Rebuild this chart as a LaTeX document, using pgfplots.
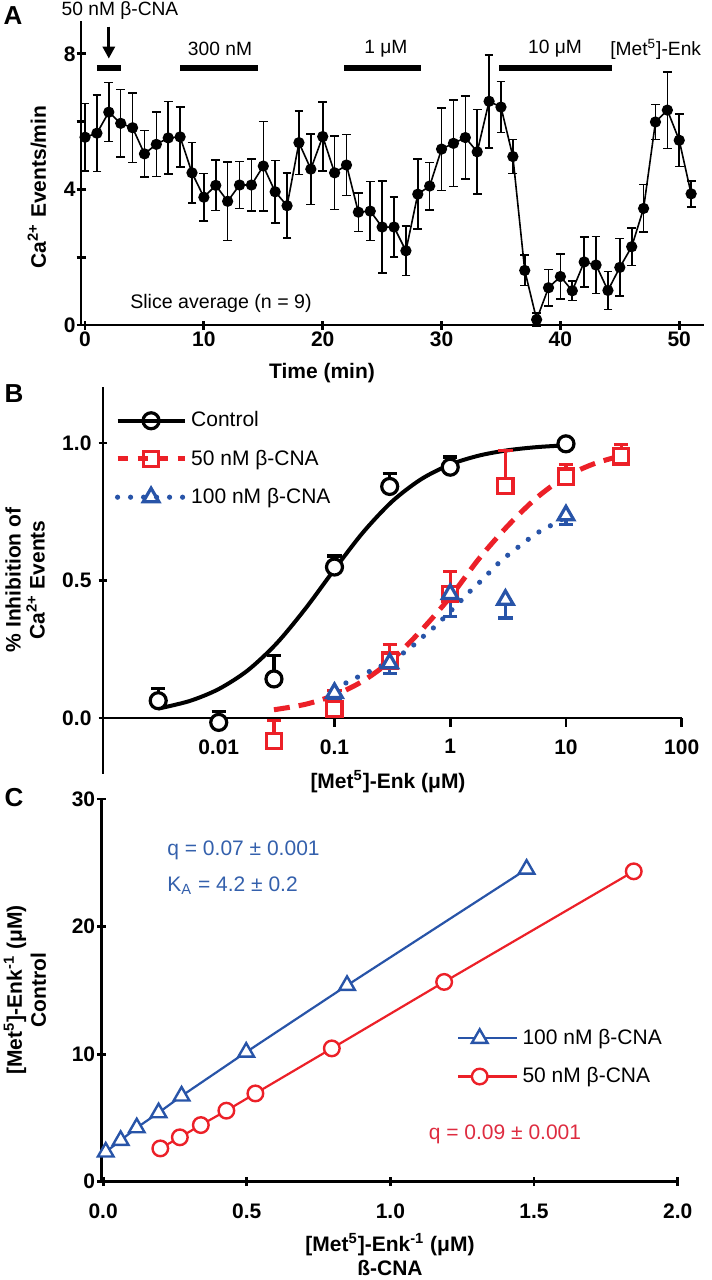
\documentclass[border=0pt]{standalone}
\usepackage{fontspec}
\setmainfont{Liberation Sans}
\usepackage{pgfplots}
\usepackage{pgfplotstable}
\pgfplotsset{compat=1.18}
\usetikzlibrary{arrows.meta}
\definecolor{cblue}{RGB}{40,84,168}
\definecolor{cred}{RGB}{236,32,40}
\definecolor{tblue}{RGB}{52,96,172}
\definecolor{tred}{RGB}{222,44,64}
\newcommand{\fs}[1]{\fontsize{#1}{#1}\selectfont}
\tikzset{spine/.style={line width=1.4pt, line cap=rect}}

\pgfplotstableread{
t v e
0 5.54 1.00
1 5.66 1.13
2 6.28 0.87
3 5.95 1.00
4 5.82 1.02
5 5.05 0.69
6 5.33 0.95
7 5.52 1.07
8 5.55 0.89
9 4.49 0.89
10 3.77 0.70
11 4.12 0.74
12 3.65 1.16
13 4.13 0.69
14 4.13 0.76
15 4.69 1.32
16 3.93 0.92
17 3.52 0.96
18 5.38 0.94
19 4.60 1.04
20 5.56 1.02
21 4.49 1.08
22 4.72 0.90
23 3.33 0.57
24 3.36 0.87
25 2.89 1.35
26 2.89 0.88
27 2.19 0.73
28 3.86 1.03
29 4.10 0.70
30 5.19 1.22
31 5.36 1.27
32 5.53 1.22
33 5.11 1.25
34 6.60 1.37
35 6.43 0.75
36 4.97 0.50
37 1.61 0.45
38 0.16 0.20
39 1.10 0.54
40 1.43 0.67
41 1.01 0.29
42 1.86 0.73
43 1.77 0.84
44 1.02 0.56
45 1.70 0.85
46 2.31 0.56
47 3.44 0.70
48 5.99 0.52
49 6.34 1.13
50 5.45 0.77
51 3.87 0.38
}\dataA

\pgfplotstableread{
x v e
0.003 0.063 0.043
0.01 -0.016 0.039
0.03 0.142 0.085
0.1 0.549 0.040
0.3 0.842 0.046
1 0.912 0.037
10 0.997 0.0
}\ctrl

\pgfplotstableread{
x v e
0.03 -0.083 0.073
0.1 0.033 0.067
0.3 0.209 0.058
1 0.451 0.081
3 0.843 0.130
10 0.878 0.044
30 0.951 0.043
}\redB

\pgfplotstableread{
x v e
0.1 0.091 0.028
0.3 0.199 0.036
1 0.451 0.082
3 0.430 0.066
10 0.737 0.034
}\blueB

\pgfplotsset{
 gp/.style={
  scale only axis, clip=false,
  axis line style={draw=none},
  every tick/.style={black, line width=1.4pt},
  tick align=outside, major tick length=4.5pt,
  tick label style={font=\bfseries\fs{10.5}},
  xminorticks=false, yminorticks=false,
 },
}

\begin{document}
\begin{tikzpicture}
\useasboundingbox (0pt,0pt) rectangle (356pt,-640pt);

% ---------------- Panel A ----------------
\begin{axis}[gp, axis lines=left,
  at={(40.5pt,-162.5pt)}, anchor=south west,
  width=311pt, height=151.5pt,
  xmin=-0.34, xmax=52, ymin=0, ymax=8.94,
  xtick={0,10,20,30,40,50}, xticklabels={0,10,20,30,40,50},
  ytick={0,2,4,6,8}, yticklabels={0,,4,,8},
  xticklabel style={yshift=2.5pt}, yticklabel style={xshift=3pt},
]
\draw[spine] (rel axis cs:0,1) -- (rel axis cs:0,0) -- (rel axis cs:1,0);
\addplot[black, line width=0.8pt, mark=*, mark size=2.4pt,
  error bars/.cd, y dir=both, y explicit,
  error bar style={line width=0.8pt},
  error mark options={rotate=90, mark size=2.2pt, line width=0.8pt}]
  table[x=t, y=v, y error=e] {\dataA};
\addplot[black, line width=3.3pt, forget plot] coordinates {(1,7.58) (3.03,7.58)};
\addplot[black, line width=3.3pt, forget plot] coordinates {(8,7.58) (14.58,7.58)};
\addplot[black, line width=3.3pt, forget plot] coordinates {(21.8,7.58) (28.3,7.58)};
\addplot[black, line width=3.3pt, forget plot] coordinates {(34.85,7.58) (44.3,7.58)};
\draw[line width=1.6pt, -{Triangle[length=6pt,width=6pt]}] (axis cs:2,8.8) -- (axis cs:2,7.86);
\end{axis}

\node[font=\bfseries\fs{13}] at (6.5pt,-8pt) {A};
\node[font=\fs{9.6}] at (60pt,-5.5pt) {50 nM β-CNA};
\node[font=\fs{9.6}] at (110pt,-24.5pt) {300 nM};
\node[font=\fs{9.6}] at (192.9pt,-24.5pt) {1 μM};
\node[font=\fs{9.6}] at (277.5pt,-24.5pt) {10 μM};
\node[font=\fs{9.6}, anchor=west, inner sep=0pt] at (305pt,-24.5pt) {[Met\textsuperscript{5}]-Enk};
\node[font=\fs{9.8}] at (110.5pt,-151.5pt) {Slice average (n = 9)};
\node[font=\bfseries\fs{10.5}, rotate=90] at (18.5pt,-93.5pt) {Ca\textsuperscript{2+} Events/min};
\node[font=\bfseries\fs{10.5}] at (161pt,-186.5pt) {Time (min)};

% ---------------- Panel B ----------------
\begin{axis}[gp, axis x line=none, axis y line=left,
  at={(51.5pt,-386.5pt)}, anchor=south west,
  width=289.35pt, height=192.5pt,
  xmode=log, xmin=0.001, xmax=100, ymin=-0.2, ymax=1.2,
  ytick={0,0.5,1}, yticklabels={0.0,0.5,1.0},
  legend style={draw=none, fill=none, font=\fs{10.5},
     at={(axis description cs:0.02,0.95)}, anchor=north west,
     row sep=6pt, inner sep=0pt},
  legend cell align=left,
  legend image code/.code={\draw[mark repeat=2,mark phase=2,#1] plot coordinates {(0pt,0pt) (16.75pt,0pt) (33.5pt,0pt)};},
]
\draw[spine] (rel axis cs:0,1) -- (rel axis cs:0,0);
\draw[line width=1.4pt] (axis cs:0.001,0) -- (axis cs:100,0);
\draw[line width=1.4pt] (axis cs:0.01,0) -- ++(0pt,-4.5pt);
\draw[line width=1.4pt] (axis cs:0.1,0) -- ++(0pt,-4.5pt);
\draw[line width=1.4pt] (axis cs:1,0) -- ++(0pt,-4.5pt);
\draw[line width=1.4pt] (axis cs:10,0) -- ++(0pt,-4.5pt);
\draw[line width=1.4pt] (axis cs:100,0) -- ++(0pt,-4.5pt);
\node[font=\bfseries\fs{10.5}, anchor=north, inner sep=0pt, yshift=-10.5pt] at (axis cs:0.01,0) {0.01};
\node[font=\bfseries\fs{10.5}, anchor=north, inner sep=0pt, yshift=-10.5pt] at (axis cs:0.1,0) {0.1};
\node[font=\bfseries\fs{10.5}, anchor=north, inner sep=0pt, yshift=-10.5pt] at (axis cs:1,0) {1};
\node[font=\bfseries\fs{10.5}, anchor=north, inner sep=0pt, yshift=-10.5pt] at (axis cs:10,0) {10};
\node[font=\bfseries\fs{10.5}, anchor=north, inner sep=0pt, yshift=-10.5pt] at (axis cs:100,0) {100};

\addlegendimage{black, line width=2pt, mark=o, mark size=4pt, mark options={line width=1.6pt, solid}}
\addlegendentry{Control}
\addlegendimage{cred, line width=2.5pt, dash pattern=on 5pt off 5pt, mark=square, mark size=3.8pt, mark options={line width=1.6pt, solid}}
\addlegendentry{50 nM β-CNA}
\addlegendimage{cblue, line width=2.6pt, line cap=round, dash pattern=on 0pt off 6.5pt, mark=triangle, mark size=4.5pt, mark options={line width=1.6pt, solid}}
\addlegendentry{100 nM β-CNA}

\addplot[black, line width=2pt, smooth, forget plot] coordinates {
(0.003,0.0341) (0.005623,0.0620) (0.01,0.1053) (0.017783,0.1730) (0.031623,0.2712)
(0.056234,0.3982) (0.1,0.5405) (0.177828,0.6766) (0.316228,0.7882) (0.562341,0.8687)
(1,0.9217) (1.778279,0.9544) (3.162278,0.9738) (5.623413,0.9851) (10,0.9916)};
\addplot[cred, line width=2.5pt, smooth, dash pattern=on 8pt off 4.5pt, forget plot] coordinates {
(0.03,0.030) (0.0562,0.0499) (0.1,0.0832) (0.1778,0.1356) (0.3162,0.2132) (0.5623,0.3189)
(1,0.4400) (1.778,0.5800) (3.162,0.7000) (5.623,0.8020) (10,0.8782) (17.78,0.9257) (30,0.9534)};
\addplot[cblue, line width=2.6pt, smooth, line cap=round, dash pattern=on 0pt off 6.5pt, forget plot] coordinates {
(0.1,0.105) (0.133,0.133) (0.18,0.16) (0.3,0.205) (0.44,0.251) (0.575,0.294) (0.74,0.333)
(0.955,0.379) (1.2,0.421) (1.51,0.464) (1.95,0.508) (2.45,0.552) (3.16,0.593) (4.17,0.632)
(5.5,0.67) (7.4,0.70) (10,0.73)};

\addplot[forget plot, only marks, black, mark=*, mark size=4pt, mark options={line width=1.6pt, fill=white, draw=black},
  error bars/.cd, y dir=plus, y explicit, error bar style={line width=1.6pt},
  error mark options={rotate=90, mark size=3.6pt, line width=1.6pt}]
  table[x=x, y=v, y error=e] {\ctrl};
\addplot[forget plot, only marks, cred, mark=square*, mark size=3.8pt, mark options={line width=1.6pt, fill=white, draw=cred},
  error bars/.cd, y dir=plus, y explicit, error bar style={line width=1.6pt},
  error mark options={rotate=90, mark size=3.6pt, line width=1.6pt}]
  table[x=x, y=v, y error=e] {\redB};
\addplot[forget plot, only marks, cblue, mark=triangle*, mark size=4.5pt, mark options={line width=1.6pt, fill=white, draw=cblue},
  error bars/.cd, y dir=minus, y explicit, error bar style={line width=1.6pt},
  error mark options={rotate=90, mark size=3.6pt, line width=1.6pt}]
  table[x=x, y=v, y error=e] {\blueB};
\end{axis}

\node[font=\bfseries\fs{13}] at (7pt,-197pt) {B};
\node[font=\bfseries\fontsize{10.5}{12}\selectfont, rotate=90, align=center] at (12.5pt,-290pt) {\% Inhibition of\\Ca\textsuperscript{2+} Events};
\node[font=\bfseries\fs{10.5}] at (194pt,-391pt) {[Met\textsuperscript{5}]-Enk (μM)};

% ---------------- Panel C ----------------
\begin{axis}[gp, axis lines=left,
  at={(50.85pt,-590.85pt)}, anchor=south west,
  width=288pt, height=191.35pt,
  xmin=-0.005, xmax=2, ymin=0, ymax=30,
  xtick={0,0.5,1,1.5,2}, xticklabels={0.0,0.5,1.0,1.5,2.0},
  ytick={0,10,20,30}, yticklabels={0,10,20,30},
  xticklabel style={yshift=-5.5pt}, yticklabel style={xshift=2.5pt},
  legend style={draw=none, fill=none, font=\fs{10.5},
     at={(axis description cs:0.616,0.41)}, anchor=north west,
     row sep=6pt, inner sep=0pt},
  legend cell align=left,
  legend image code/.code={\draw[mark repeat=2,mark phase=2,#1] plot coordinates {(0pt,0pt) (10.85pt,0pt) (21.7pt,0pt)}; \path (21.7pt,0pt) -- (29.7pt,0pt);},
]
\draw[spine] (rel axis cs:0,1) -- (rel axis cs:0,0) -- (rel axis cs:1,0);
\addplot[cblue, line width=1.1pt, mark=triangle*, mark size=4.5pt, mark options={line width=1.2pt, fill=white, draw=cblue}]
 coordinates {(0.009,2.33) (0.061,3.24) (0.117,4.23) (0.193,5.41) (0.273,6.72) (0.498,10.16) (0.849,15.39) (1.474,24.5)};
\addlegendentry{100 nM β-CNA}
\addplot[cred, line width=1.1pt, mark=*, mark size=3.9pt, mark options={line width=1.2pt, fill=white, draw=cred}]
 coordinates {(0.199,2.61) (0.267,3.48) (0.340,4.44) (0.429,5.57) (0.530,6.92) (0.796,10.45) (1.187,15.66) (1.847,24.33)};
\addlegendentry{50 nM β-CNA}
\end{axis}

\node[font=\bfseries\fs{13}] at (7pt,-399pt) {C};
\node[font=\bfseries\fontsize{10.5}{12}\selectfont, rotate=90, align=center] at (12.5pt,-495pt) {[Met\textsuperscript{5}]-Enk\textsuperscript{-1} (μM)\\Control};
\node[font=\bfseries\fs{10.5}, anchor=base, inner sep=0pt] at (195pt,-625.8pt) {[Met\textsuperscript{5}]-Enk\textsuperscript{-1} (μM)};
\node[font=\bfseries\fs{10.5}, anchor=base, inner sep=0pt] at (195pt,-637.5pt) {ß-CNA};
\node[font=\fs{10.5}, text=tblue, anchor=west, inner sep=0pt] at (83.5pt,-425pt) {q = 0.07 ± 0.001};
\node[font=\fs{10.5}, text=tblue, anchor=west, inner sep=0pt] at (83.5pt,-443pt) {K\textsubscript{A} = 4.2 ± 0.2};
\node[font=\fs{10.5}, text=tred] at (252.5pt,-567pt) {q = 0.09 ± 0.001};
\end{tikzpicture}
\end{document}
